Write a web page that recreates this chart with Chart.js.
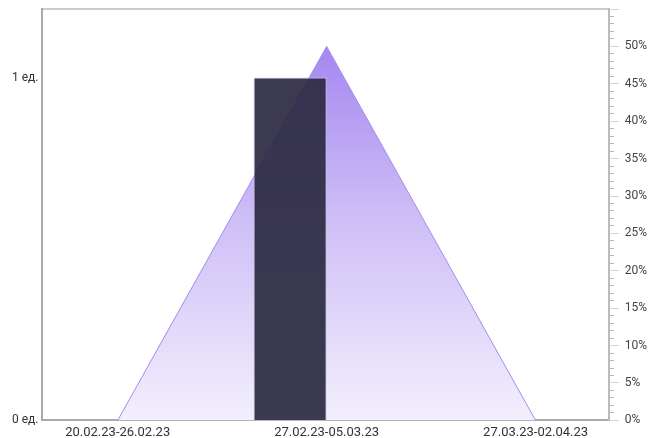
<!DOCTYPE html>
<html>
<head>
<meta charset="utf-8">
<script src="https://cdn.jsdelivr.net/npm/chart.js@4/dist/chart.umd.min.js"></script>
<style>
  html, body { margin: 0; padding: 0; background: #fff; }
  #wrap { width: 664px; height: 438px; position: relative; }
</style>
</head>
<body>
<div id="wrap"><canvas id="c"></canvas></div>
<script>
const categories = ['20.02.23-26.02.23', '27.02.23-05.03.23', '27.03.23-02.04.23'];
const units = [0, 1, 0];            // bars, "ед."
const compareUnits = [null, null, null]; // second (empty) bar group
const percents = [0, 50, 0];        // area, %

const toPoints = arr => categories.map((c, i) => ({ x: i, y: arr[i] }));

const areaFill = (ctx) => {
  const chart = ctx.chart;
  const a = chart.chartArea;
  if (!a) return 'rgba(160,128,240,0.5)';
  const g = chart.ctx.createLinearGradient(0, a.top, 0, a.bottom);
  g.addColorStop(0, '#9c7bef');
  g.addColorStop(0.5, '#cdbdf6');
  g.addColorStop(1, '#f3effd');
  return g;
};

new Chart(document.getElementById('c'), {
  data: {
    datasets: [
      {
        type: 'bar',
        label: 'ед.',
        data: toPoints(units),
        yAxisID: 'y',
        xAxisID: 'x',
        backgroundColor: 'rgba(45,43,68,0.93)',
        borderColor: 'rgba(205,205,215,0.9)',
        borderWidth: 1,
        categoryPercentage: 0.7,
        barPercentage: 1.0,
        order: 0
      },
      {
        type: 'bar',
        label: 'ед. (2)',
        data: toPoints(compareUnits),
        yAxisID: 'y',
        xAxisID: 'x',
        backgroundColor: 'rgba(0,0,0,0)',
        borderWidth: 0,
        categoryPercentage: 0.7,
        barPercentage: 1.0,
        order: 0
      },
      {
        type: 'line',
        label: '%',
        data: toPoints(percents),
        yAxisID: 'yR',
        xAxisID: 'x',
        borderColor: '#a48af0',
        borderWidth: 1,
        backgroundColor: areaFill,
        fill: 'origin',
        tension: 0,
        pointRadius: 0,
        order: 1
      }
    ]
  },
  options: {
    responsive: true,
    maintainAspectRatio: false,
    animation: false,
    layout: { padding: { left: 12, right: 17, top: 9, bottom: -8 } },
    plugins: { legend: { display: false }, tooltip: { enabled: false } },
    scales: {
      x: {
        type: 'linear',
        position: 'bottom',
        offset: false,
        min: -0.36,
        max: 2.35,
        afterBuildTicks: (s) => { s.ticks = categories.map((c, i) => ({ value: i })); },
        ticks: {
          autoSkip: false,
          maxRotation: 0,
          callback: (v) => categories[v] !== undefined ? categories[v] : '',
          color: '#333',
          font: { family: 'Roboto', size: 13 },
          padding: 5
        },
        grid: { offset: false, drawOnChartArea: false, drawTicks: false },
        border: { color: '#aaaaaa', width: 2 }
      },
      xTop: {
        type: 'linear',
        position: 'top',
        offset: false,
        ticks: { display: false },
        grid: { offset: false, drawOnChartArea: false, drawTicks: false },
        border: { color: '#cccccc', width: 2 }
      },
      y: {
        position: 'left',
        min: 0,
        max: 1.2,
        ticks: {
          stepSize: 1,
          includeBounds: false,
          callback: (v) => Number.isInteger(v) ? v + ' ед.' : '',
          color: '#333',
          font: { family: 'Roboto', size: 12 },
          padding: 0
        },
        grid: { drawOnChartArea: false, drawTicks: true, tickLength: 4, tickColor: 'rgba(0,0,0,0)' },
        border: { color: '#aaaaaa', width: 2 }
      },
      yR: {
        position: 'right',
        min: 0,
        max: 55,
        ticks: {
          stepSize: 1,
          autoSkip: false,
          includeBounds: false,
          callback: (v) => (v % 5 === 0 && v <= 50) ? v + '%' : '',
          color: '#444',
          font: { family: 'Roboto', size: 12 },
          padding: 0
        },
        grid: {
          drawOnChartArea: false,
          drawTicks: true,
          tickLength: 16,
          tickWidth: 1,
          tickColor: (ctx) => (ctx.tick && ctx.tick.value % 5 === 0) ? '#d4d4d4' : '#b8b8b8',
          tickBorderDash: (ctx) => (ctx.tick && ctx.tick.value % 5 === 0) ? [9, 40] : [4, 40]
        },
        border: { color: '#bbbbbb', width: 2 }
      }
    }
  }
});
</script>
</body>
</html>
